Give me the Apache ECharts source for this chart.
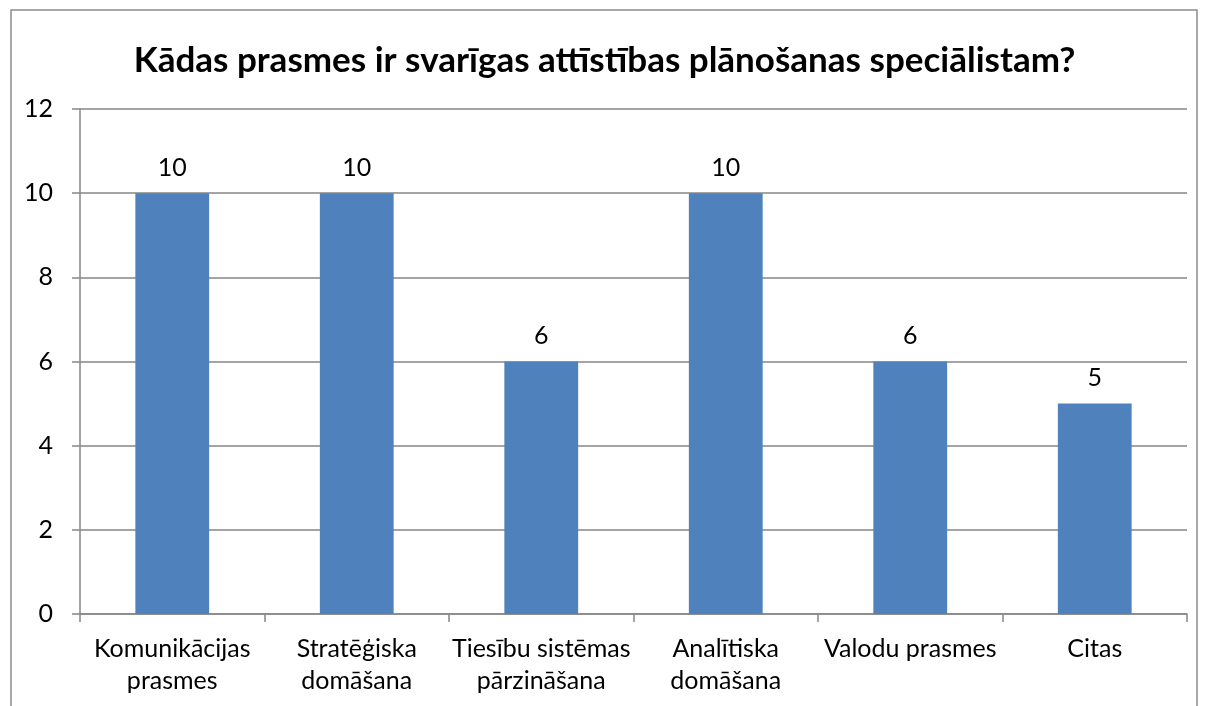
<!DOCTYPE html>
<html><head><meta charset="utf-8">
<script src="https://cdn.jsdelivr.net/npm/echarts@6/dist/echarts.min.js"></script>
<style>html,body{margin:0;padding:0;background:#fff}#c{width:1209px;height:706px}</style>
</head><body><div id="c"></div>
<script>
const titleText = 'Kādas prasmes ir svarīgas attīstības plānošanas speciālistam?';
const categories = ['Komunikācijas\nprasmes', 'Stratēģiska\ndomāšana', 'Tiesību sistēmas\npārzināšana', 'Analītiska\ndomāšana', 'Valodu prasmes', 'Citas'];
const values = [10, 10, 6, 10, 6, 5];
const yTicks = [0, 2, 4, 6, 8, 10, 12];

const chart = echarts.init(document.getElementById('c'), null, {renderer: 'canvas'});
const font = 'Lato';
chart.setOption({
  animation: false,
  graphic: [{type: 'rect', shape: {x: 11, y: 10, width: 1186, height: 720}, style: {fill: 'none', stroke: '#8c8c8c', lineWidth: 1.5}, z: 10}],
  title: {text: titleText, left: 'center', top: 38, textStyle: {fontFamily: font, fontWeight: 'bold', fontSize: 35, color: '#000'}},
  grid: {left: 80, right: 22, top: 109, bottom: 92, containLabel: false},
  xAxis: {type: 'category', data: categories,
    axisLine: {lineStyle: {color: '#868686', width: 1.5}},
    axisTick: {show: true, length: 8, lineStyle: {color: '#868686', width: 1.5}},
    axisLabel: {fontFamily: font, fontSize: 25, color: '#000', lineHeight: 32, margin: 19, interval: 0}},
  yAxis: {type: 'value', min: 0, max: 12, interval: 2,
    axisLine: {show: true, lineStyle: {color: '#868686', width: 1.5}},
    axisTick: {show: true, length: 8, lineStyle: {color: '#868686', width: 1.5}},
    splitLine: {lineStyle: {color: '#868686', width: 1.5}},
    axisLabel: {fontFamily: font, fontSize: 25, color: '#000', margin: 27,
      formatter: v => yTicks.includes(v) ? String(v) : ''}},
  series: [{type: 'bar', data: values, barCategoryGap: '60%',
    itemStyle: {color: '#4F81BD'},
    label: {show: true, position: 'top', distance: 13, fontFamily: font, fontSize: 25, color: '#000'}}]
});
</script></body></html>
